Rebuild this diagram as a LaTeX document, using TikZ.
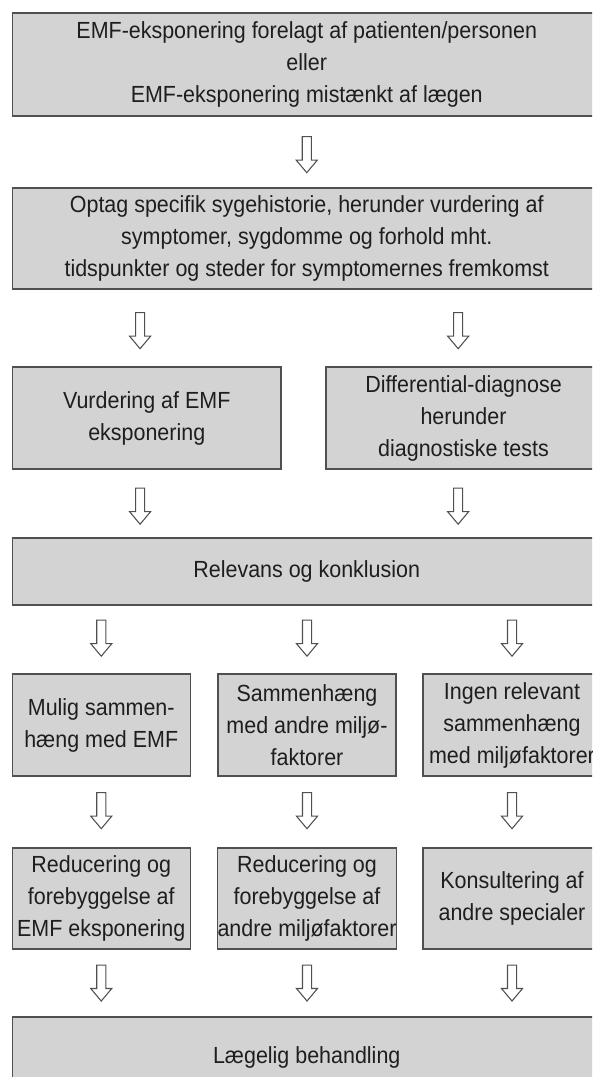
\documentclass[tikz,border=0pt]{standalone}
\usepackage{fontspec}
\setmainfont{Liberation Sans}[FakeStretch=0.92]
\usetikzlibrary{shapes.arrows,calc,positioning}

\definecolor{boxfill}{RGB}{211,211,211}
\definecolor{boxline}{RGB}{80,80,80}
\definecolor{textgray}{RGB}{30,30,30}

\tikzset{
    stepbox/.style={draw=boxline, fill=boxfill, line width=1pt, text=textgray,
        align=center, inner sep=0pt, font=\fontsize{17.5}{24}\selectfont},
    flowarrow/.style={single arrow, draw=boxline, fill=white, line width=0.8pt,
        shape border rotate=270, minimum height=27pt, inner sep=3pt,
        single arrow head extend=4.5pt, single arrow tip angle=80},
}

\begin{document}
\begin{tikzpicture}[x=0.75pt,y=-0.75pt]
        \useasboundingbox (0,0) rectangle (592,1077);
        \clip (0,0) rectangle (592,1077);

        % full width rows
        \node[stepbox, minimum width=441.4pt, minimum height=77.25pt] (start) at (306.75,64.5)
            {EMF-eksponering forelagt af patienten/personen\\eller\\EMF-eksponering mistænkt af lægen};
        \node[stepbox, minimum width=441.4pt, minimum height=75.75pt] (history) at (306.75,238.5)
            {Optag specifik sygehistorie, herunder vurdering af\\symptomer, sygdomme og forhold mht.\\tidspunkter og steder for symptomernes fremkomst};

        % two columns
        \node[stepbox, minimum width=201.4pt, minimum height=76.5pt] (exposure) at (146.75,418)
            {Vurdering af EMF\\eksponering};
        \node[stepbox, minimum width=206.25pt, minimum height=76.5pt] (diagnosis) at (463.5,418)
            {Differential-diagnose\\herunder\\diagnostiske tests};

        \node[stepbox, minimum width=441.4pt, minimum height=50.25pt] (relevance) at (306.75,571.5)
            {Relevans og konklusion};

        % three columns
        \node[stepbox, minimum width=133.5pt, minimum height=76.5pt] (emf) at (101.25,725)
            {Mulig sammen-\\hæng med EMF};
        \node[stepbox, minimum width=133.5pt, minimum height=76.5pt] (other) at (307,725)
            {Sammenhæng\\med andre miljø-\\faktorer};
        \node[stepbox, minimum width=133.5pt, minimum height=76.5pt] (none) at (512,725)
            {Ingen relevant\\sammenhæng\\med miljøfaktorer};

        \node[stepbox, minimum width=133.5pt, minimum height=75.75pt] (reduceemf) at (101.25,898.5)
            {Reducering og\\forebyggelse af\\EMF eksponering};
        \node[stepbox, minimum width=133.5pt, minimum height=75.75pt] (reduceother) at (307,898.5)
            {Reducering og\\forebyggelse af\\andre miljøfaktorer};
        \node[stepbox, minimum width=133.5pt, minimum height=75.75pt] (consult) at (512,898.5)
            {Konsultering af\\andre specialer};

        \node[stepbox, minimum width=441.4pt, minimum height=60pt] (treatment) at (306.75,1057)
            {Lægelig behandling};

        % arrows
        \node[flowarrow] (a1) at ($(start.south)!0.5!(history.north)$) {};
        \node[flowarrow, xshift=-5pt] (a2l) at ($(history.south -| exposure.north)!0.5!(exposure.north)$) {};
        \node[flowarrow, xshift=-4pt] (a2r) at ($(history.south -| diagnosis.north)!0.5!(diagnosis.north)$) {};
        \node[flowarrow, xshift=-5pt] (a3l) at ($(exposure.south)!0.5!(relevance.north -| exposure.south)$) {};
        \node[flowarrow, xshift=-4pt] (a3r) at ($(diagnosis.south)!0.5!(relevance.north -| diagnosis.south)$) {};
        \foreach \col/\next in {emf/reduceemf, other/reduceother, none/consult}{
            \node[flowarrow, yshift=3pt] (a4\col) at ($(relevance.south -| \col.north)!0.5!(\col.north)$) {};
            \node[flowarrow, yshift=3pt] (a5\col) at ($(\col.south)!0.5!(\next.north)$) {};
            \node[flowarrow, yshift=2pt] (a6\col) at ($(\next.south)!0.5!(treatment.north -| \next.south)$) {};
        }
    \end{tikzpicture}
\end{document}
